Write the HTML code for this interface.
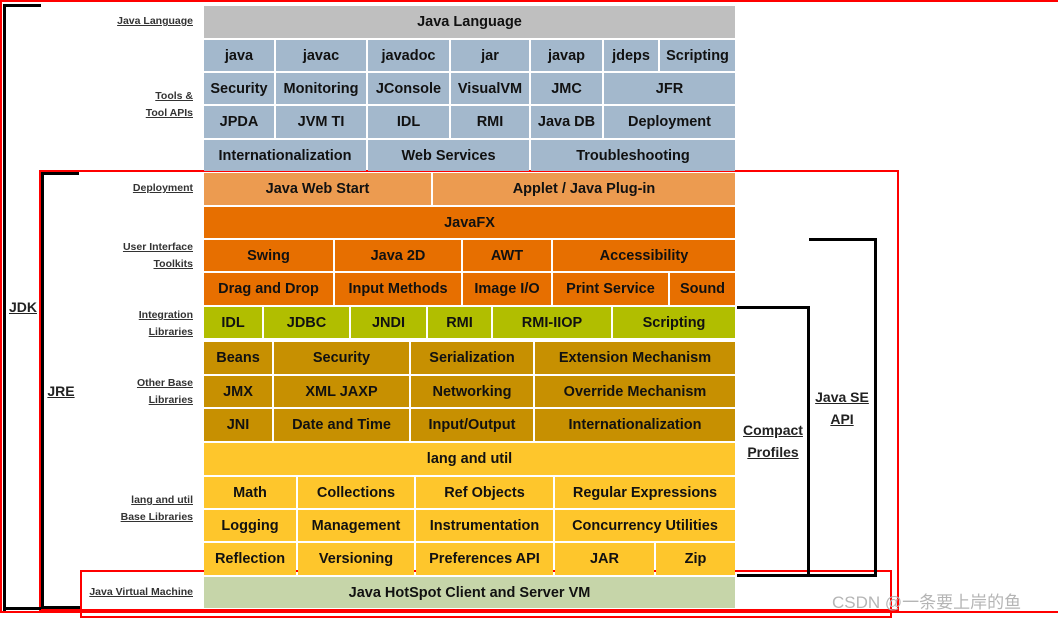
<!DOCTYPE html>
<html><head><meta charset="utf-8"><style>
body{margin:0;width:1058px;height:618px;background:#fff;position:relative;overflow:hidden;font-family:"Liberation Sans",Arial,sans-serif}
.c{position:absolute;display:flex;align-items:center;justify-content:center;font-weight:bold;font-size:14.5px;color:#111;white-space:nowrap}
.g{background:#bfbfbf}.b{background:#a3b8cc}.o1{background:#ec9b50}.o{background:#e76f00}.gr{background:#b1be00}.ob{background:#c79001}.y{background:#fec62c}.v{background:#c6d5a9}
.l{position:absolute;right:865px;text-align:right;font-size:10.5px;font-weight:bold;color:#333;text-decoration:underline;line-height:17px;white-space:nowrap}
.k{position:absolute;background:#000}
.r{position:absolute;border:2px solid #f00;box-sizing:border-box}
.t{position:absolute;font-weight:bold;font-size:14px;color:#222;text-decoration:underline;text-align:center;line-height:22px}
</style></head><body>
<div class="r" style="left:0;top:1;width:1062px;height:613px"></div>
<div class="r" style="left:39;top:170px;left:39px;width:860px;height:442px;border-bottom-width:3px"></div>
<div class="r" style="left:80px;top:570px;width:812px;height:48px"></div>

<div class="k" style="left:3px;top:4px;width:3px;height:607px"></div>
<div class="k" style="left:3px;top:4px;width:38px;height:3px"></div>
<div class="k" style="left:3px;top:607px;width:38px;height:3px"></div>
<div class="k" style="left:41px;top:172px;width:3px;height:437px"></div>
<div class="k" style="left:41px;top:172px;width:38px;height:3px"></div>
<div class="k" style="left:41px;top:606px;width:39px;height:3px"></div>
<div class="k" style="left:737px;top:306px;width:72px;height:3px"></div>
<div class="k" style="left:807px;top:306px;width:3px;height:271px"></div>
<div class="k" style="left:737px;top:574px;width:140px;height:3px"></div>
<div class="k" style="left:809px;top:238px;width:68px;height:3px"></div>
<div class="k" style="left:874px;top:238px;width:3px;height:339px"></div>

<div class="t" style="left:6px;top:296px;width:34px">JDK</div>
<div class="t" style="left:44px;top:380px;width:34px">JRE</div>
<div class="t" style="left:737px;top:419px;width:72px">Compact<br>Profiles</div>
<div class="t" style="left:810px;top:386px;width:64px">Java SE<br>API</div>

<div class="l" style="top:13px">Java Language</div>
<div class="l" style="top:88px">Tools &amp;<br>Tool APIs</div>
<div class="l" style="top:180px">Deployment</div>
<div class="l" style="top:239px">User Interface<br>Toolkits</div>
<div class="l" style="top:307px">Integration<br>Libraries</div>
<div class="l" style="top:375px">Other Base<br>Libraries</div>
<div class="l" style="top:492px">lang and util<br>Base Libraries</div>
<div class="l" style="top:584px">Java Virtual Machine</div>

<div class="c g" style="left:204px;top:6px;width:531px;height:32px">Java Language</div>

<div class="c b" style="left:204px;top:40px;width:70px;height:31px">java</div>
<div class="c b" style="left:276px;top:40px;width:90px;height:31px">javac</div>
<div class="c b" style="left:368px;top:40px;width:81px;height:31px">javadoc</div>
<div class="c b" style="left:451px;top:40px;width:78px;height:31px">jar</div>
<div class="c b" style="left:531px;top:40px;width:71px;height:31px">javap</div>
<div class="c b" style="left:604px;top:40px;width:54px;height:31px">jdeps</div>
<div class="c b" style="left:660px;top:40px;width:75px;height:31px">Scripting</div>

<div class="c b" style="left:204px;top:73px;width:70px;height:31px">Security</div>
<div class="c b" style="left:276px;top:73px;width:90px;height:31px">Monitoring</div>
<div class="c b" style="left:368px;top:73px;width:81px;height:31px">JConsole</div>
<div class="c b" style="left:451px;top:73px;width:78px;height:31px">VisualVM</div>
<div class="c b" style="left:531px;top:73px;width:71px;height:31px">JMC</div>
<div class="c b" style="left:604px;top:73px;width:131px;height:31px">JFR</div>

<div class="c b" style="left:204px;top:106px;width:70px;height:32px">JPDA</div>
<div class="c b" style="left:276px;top:106px;width:90px;height:32px">JVM TI</div>
<div class="c b" style="left:368px;top:106px;width:81px;height:32px">IDL</div>
<div class="c b" style="left:451px;top:106px;width:78px;height:32px">RMI</div>
<div class="c b" style="left:531px;top:106px;width:71px;height:32px">Java DB</div>
<div class="c b" style="left:604px;top:106px;width:131px;height:32px">Deployment</div>

<div class="c b" style="left:204px;top:140px;width:162px;height:31px">Internationalization</div>
<div class="c b" style="left:368px;top:140px;width:161px;height:31px">Web Services</div>
<div class="c b" style="left:531px;top:140px;width:204px;height:31px">Troubleshooting</div>

<div class="c o1" style="left:204px;top:173px;width:227px;height:32px">Java Web Start</div>
<div class="c o1" style="left:433px;top:173px;width:302px;height:32px">Applet / Java Plug-in</div>

<div class="c o" style="left:204px;top:207px;width:531px;height:31px">JavaFX</div>

<div class="c o" style="left:204px;top:240px;width:129px;height:31px">Swing</div>
<div class="c o" style="left:335px;top:240px;width:126px;height:31px">Java 2D</div>
<div class="c o" style="left:463px;top:240px;width:88px;height:31px">AWT</div>
<div class="c o" style="left:553px;top:240px;width:182px;height:31px">Accessibility</div>

<div class="c o" style="left:204px;top:273px;width:129px;height:32px">Drag and Drop</div>
<div class="c o" style="left:335px;top:273px;width:126px;height:32px">Input Methods</div>
<div class="c o" style="left:463px;top:273px;width:88px;height:32px">Image I/O</div>
<div class="c o" style="left:553px;top:273px;width:115px;height:32px">Print Service</div>
<div class="c o" style="left:670px;top:273px;width:65px;height:32px">Sound</div>

<div class="c gr" style="left:204px;top:307px;width:58px;height:31px">IDL</div>
<div class="c gr" style="left:264px;top:307px;width:85px;height:31px">JDBC</div>
<div class="c gr" style="left:351px;top:307px;width:75px;height:31px">JNDI</div>
<div class="c gr" style="left:428px;top:307px;width:63px;height:31px">RMI</div>
<div class="c gr" style="left:493px;top:307px;width:118px;height:31px">RMI-IIOP</div>
<div class="c gr" style="left:613px;top:307px;width:122px;height:31px">Scripting</div>

<div class="c ob" style="left:204px;top:342px;width:68px;height:32px">Beans</div>
<div class="c ob" style="left:274px;top:342px;width:135px;height:32px">Security</div>
<div class="c ob" style="left:411px;top:342px;width:122px;height:32px">Serialization</div>
<div class="c ob" style="left:535px;top:342px;width:200px;height:32px">Extension Mechanism</div>

<div class="c ob" style="left:204px;top:376px;width:68px;height:31px">JMX</div>
<div class="c ob" style="left:274px;top:376px;width:135px;height:31px">XML JAXP</div>
<div class="c ob" style="left:411px;top:376px;width:122px;height:31px">Networking</div>
<div class="c ob" style="left:535px;top:376px;width:200px;height:31px">Override Mechanism</div>

<div class="c ob" style="left:204px;top:409px;width:68px;height:32px">JNI</div>
<div class="c ob" style="left:274px;top:409px;width:135px;height:32px">Date and Time</div>
<div class="c ob" style="left:411px;top:409px;width:122px;height:32px">Input/Output</div>
<div class="c ob" style="left:535px;top:409px;width:200px;height:32px">Internationalization</div>

<div class="c y" style="left:204px;top:443px;width:531px;height:32px">lang and util</div>

<div class="c y" style="left:204px;top:477px;width:92px;height:31px">Math</div>
<div class="c y" style="left:298px;top:477px;width:116px;height:31px">Collections</div>
<div class="c y" style="left:416px;top:477px;width:137px;height:31px">Ref Objects</div>
<div class="c y" style="left:555px;top:477px;width:180px;height:31px">Regular Expressions</div>

<div class="c y" style="left:204px;top:510px;width:92px;height:31px">Logging</div>
<div class="c y" style="left:298px;top:510px;width:116px;height:31px">Management</div>
<div class="c y" style="left:416px;top:510px;width:137px;height:31px">Instrumentation</div>
<div class="c y" style="left:555px;top:510px;width:180px;height:31px">Concurrency Utilities</div>

<div class="c y" style="left:204px;top:543px;width:92px;height:32px">Reflection</div>
<div class="c y" style="left:298px;top:543px;width:116px;height:32px">Versioning</div>
<div class="c y" style="left:416px;top:543px;width:137px;height:32px">Preferences API</div>
<div class="c y" style="left:555px;top:543px;width:99px;height:32px">JAR</div>
<div class="c y" style="left:656px;top:543px;width:79px;height:32px">Zip</div>

<div class="c v" style="left:204px;top:577px;width:531px;height:31px">Java HotSpot Client and Server VM</div>

<div style="position:absolute;left:832px;top:588px;font-size:17px;color:#b5b5b5;font-family:'Liberation Sans','Noto Sans CJK SC',sans-serif;white-space:nowrap">CSDN @一条要上岸的鱼</div>
</body></html>
